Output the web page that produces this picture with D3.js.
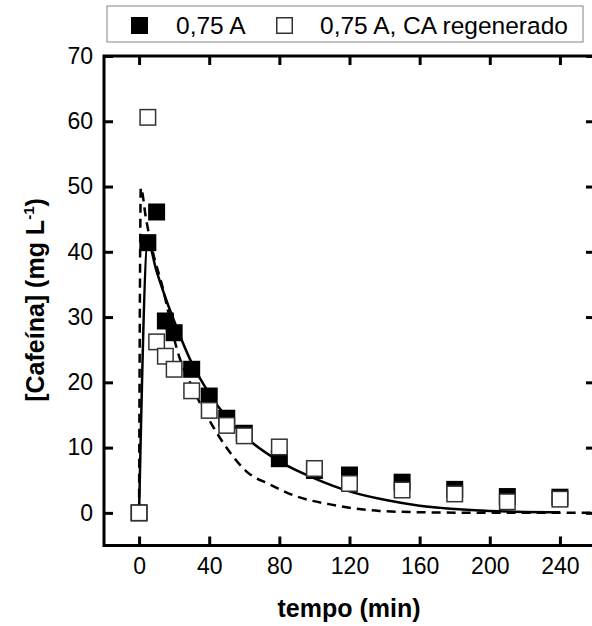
<!DOCTYPE html>
<html>
<head>
<meta charset="utf-8">
<script src="https://cdn.jsdelivr.net/npm/d3@7"></script>
<style>
  body { margin: 0; background: #fff; }
  text { font-family: Arial, "Liberation Sans", sans-serif; fill: #000; }
</style>
</head>
<body>
<svg width="592" height="626"></svg>
<script>
// **** Data ****

var tempo = [0, 5, 10, 15, 20, 30, 40, 50, 60, 80, 100, 120, 150, 180, 210, 240];
var cafeinaA = [0, 41.4, 46.1, 29.4, 27.6, 22, 17.9, 14.5, 12.2, 8.3, 6.5, 5.8, 4.7, 3.6, 2.5, 2.4];
var cafeinaRegen = [0, 60.6, 26.2, 24, 22, 18.7, 15.7, 13.4, 11.8, 10.1, 6.8, 4.5, 3.5, 2.9, 1.7, 2.1];

// fitted curves (solid = 0,75 A, dashed = regenerated)
var ajusteT = [0, 5, 10, 15, 20, 30, 40, 50, 60, 80, 100, 120, 140, 160, 180, 200, 220, 240];
var ajusteA = [0, 41.5, 37, 33, 29.4, 23, 18.3, 14.6, 11.8, 7.9, 5.3, 3.3, 2.0, 1.1, 0.6, 0.3, 0.15, 0.1];
var ajusteRegenT = [0, 1, 4, 8, 13, 22, 31, 42, 52, 61, 75, 90, 109, 137, 160, 200, 260];
var ajusteRegen = [0, 49.8, 45, 39.8, 35, 24.7, 18.9, 13.3, 9.2, 6.4, 4.3, 2.5, 1.3, 0.3, 0.1, 0, 0];

var xTicks = [0, 40, 80, 120, 160, 200, 240];
var yTicks = [0, 10, 20, 30, 40, 50, 60, 70];
var legendLabels = ['0,75 A', '0,75 A, CA regenerado'];

// **** Scales, frame and axes ****

var x = d3.scaleLinear().domain([-20, 260]).range([104, 595]);
var y = d3.scaleLinear().domain([-5, 70]).range([545.5, 56]);

var svg = d3.select('svg');

function styleAxis(g) {
    g.select('.domain').remove();
    g.selectAll('.tick line').attr('stroke', '#000').attr('stroke-width', 3);
    g.selectAll('.tick text').style('font-size', '23px').attr('fill', '#000');
}

svg.append('g').attr('transform', 'translate(0,' + y(-5) + ')')
    .call(d3.axisBottom(x).tickValues(xTicks).tickSize(-9).tickPadding(12))
    .call(styleAxis);

svg.append('g').attr('transform', 'translate(0,' + y(70) + ')')
    .call(d3.axisTop(x).tickValues(xTicks).tickSize(-9).tickFormat(''))
    .call(styleAxis);

svg.append('g').attr('transform', 'translate(' + x(-20) + ',0)')
    .call(d3.axisLeft(y).tickValues(yTicks).tickSize(-9).tickPadding(11))
    .call(styleAxis);

svg.append('g').attr('transform', 'translate(' + x(260) + ',0)')
    .call(d3.axisRight(y).tickValues(yTicks).tickSize(-9).tickFormat(''))
    .call(styleAxis);

svg.append('rect')
    .attr('x', x(-20)).attr('y', y(70))
    .attr('width', x(260) - x(-20)).attr('height', y(-5) - y(70))
    .attr('fill', 'none').attr('stroke', '#000').attr('stroke-width', 3);

// **** Curves ****

var line = d3.line()
    .x(function(d) { return x(d[0]); })
    .y(function(d) { return y(d[1]); })
    .curve(d3.curveMonotoneX);

svg.append('path')
    .datum(d3.zip(ajusteRegenT, ajusteRegen))
    .attr('d', line)
    .attr('fill', 'none').attr('stroke', '#000')
    .attr('stroke-width', 2.5).attr('stroke-dasharray', '9,6');

svg.append('path')
    .datum(d3.zip(ajusteT, ajusteA))
    .attr('d', line)
    .attr('fill', 'none').attr('stroke', '#000').attr('stroke-width', 2.5);

// **** Points ****

var size = 17;

svg.append('g').selectAll('rect')
    .data(d3.zip(tempo, cafeinaA))
    .enter().append('rect')
    .attr('x', function(d) { return x(d[0]) - size / 2; })
    .attr('y', function(d) { return y(d[1]) - size / 2; })
    .attr('width', size).attr('height', size)
    .attr('fill', '#000');

svg.append('g').selectAll('rect')
    .data(d3.zip(tempo, cafeinaRegen))
    .enter().append('rect')
    .attr('x', function(d) { return x(d[0]) - size / 2 + 0.75; })
    .attr('y', function(d) { return y(d[1]) - size / 2 + 0.75; })
    .attr('width', size - 1.5).attr('height', size - 1.5)
    .attr('fill', '#fff').attr('stroke', '#333').attr('stroke-width', 1.5);

// **** Axis titles ****

svg.append('text')
    .text('tempo (min)')
    .attr('text-anchor', 'middle')
    .style('font-size', '25px').style('font-weight', 'bold')
    .attr('transform', 'translate(349,617)');

var yLabel = svg.append('text')
    .attr('text-anchor', 'middle')
    .style('font-size', '25px').style('font-weight', 'bold')
    .attr('transform', 'translate(44,300) rotate(-90)');
yLabel.append('tspan').text('[Cafeína] (mg L');
yLabel.append('tspan').text('-1').style('font-size', '15px').attr('dy', -10);
yLabel.append('tspan').text(')').attr('dy', 10);

// **** Legend ****

var legend = svg.append('g');
legend.append('rect')
    .attr('x', 107).attr('y', 6).attr('width', 476).attr('height', 36)
    .attr('fill', '#fff').attr('stroke', '#999').attr('stroke-width', 1.2);

legend.append('rect')
    .attr('x', 131).attr('y', 17).attr('width', 17).attr('height', 17)
    .attr('fill', '#000');
legend.append('text').text(legendLabels[0])
    .style('font-size', '24.5px').attr('x', 176).attr('y', 34);

legend.append('rect')
    .attr('x', 276.75).attr('y', 17.75).attr('width', 15.5).attr('height', 15.5)
    .attr('fill', '#fff').attr('stroke', '#333').attr('stroke-width', 1.5);
legend.append('text').text(legendLabels[1])
    .style('font-size', '24.5px').attr('x', 320).attr('y', 34);
</script>
</body>
</html>
